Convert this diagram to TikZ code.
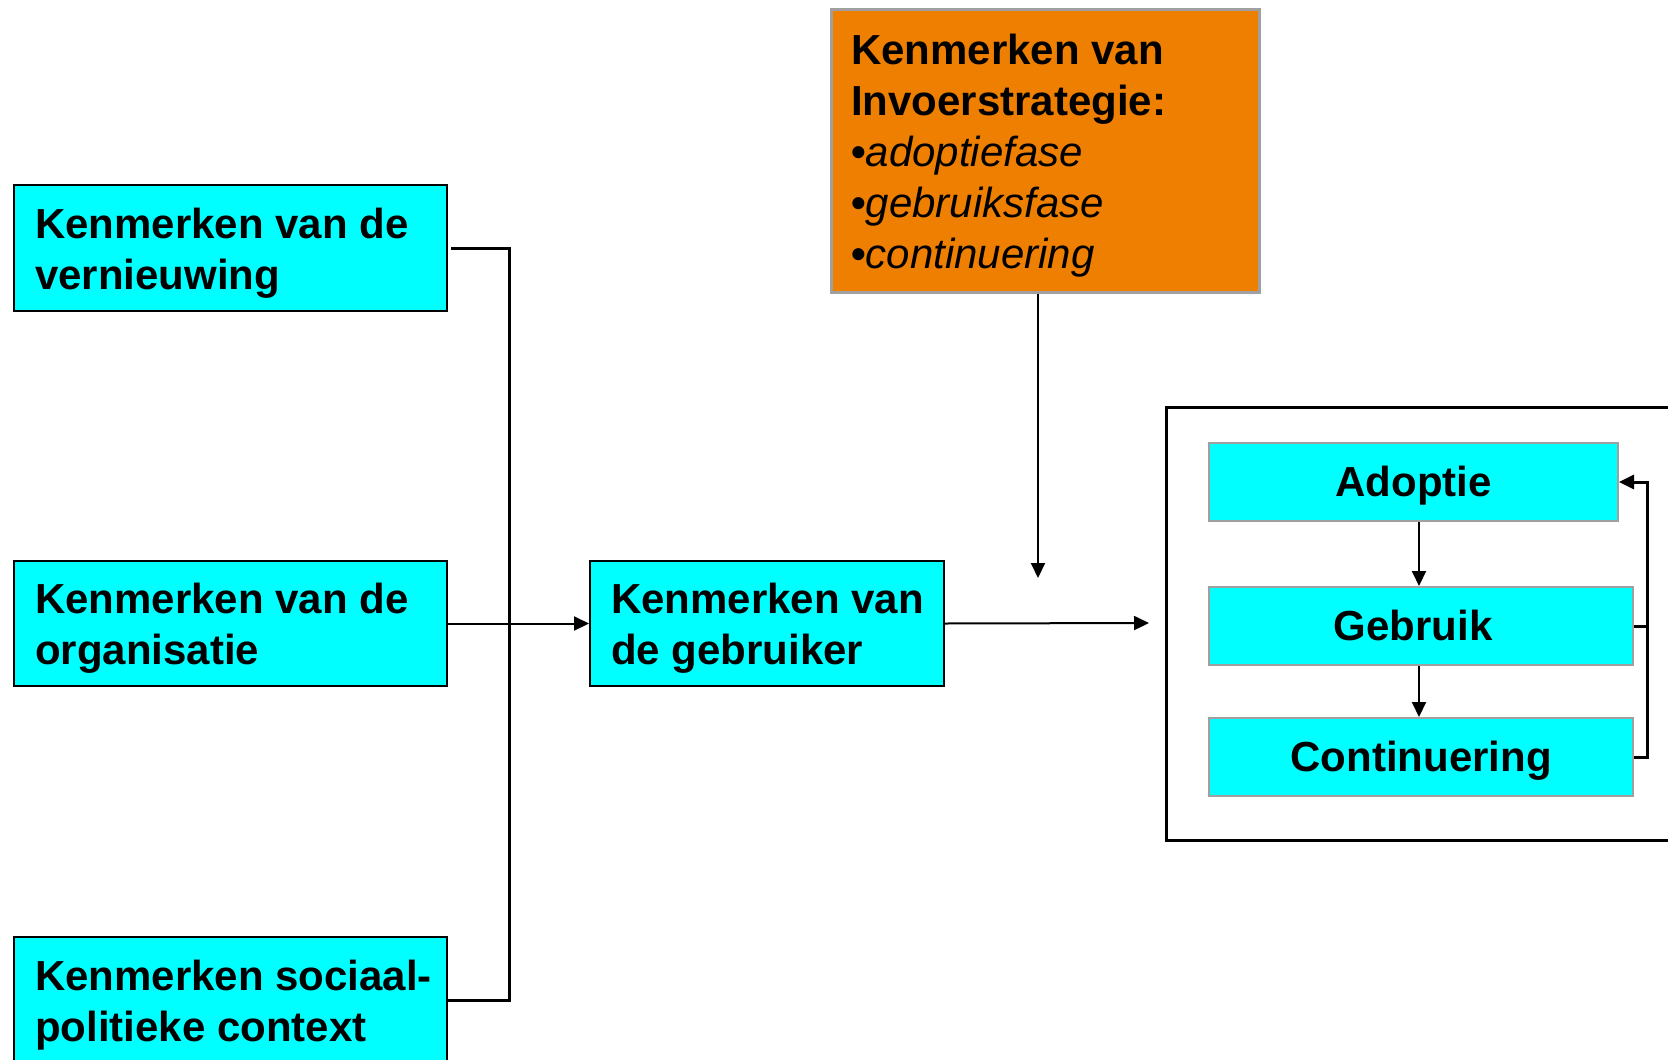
\documentclass[tikz,border=0pt]{standalone}
\usepackage{fontspec}
\setmainfont{Liberation Sans}
\usetikzlibrary{arrows.meta}
\definecolor{boxcyan}{HTML}{00FFFF}
\definecolor{boxorange}{HTML}{EE7F00}
\definecolor{bordergray}{HTML}{A0A0A0}
\tikzset{
  leftbox/.style={draw=black, line width=2pt, fill=boxcyan, inner sep=0pt, anchor=north west},
  rightbox/.style={draw=bordergray, line width=2pt, fill=boxcyan, inner sep=0pt, anchor=north west,
    text height=38pt, text depth=9pt, font=\fontsize{42}{51}\selectfont\bfseries},
  orangebox/.style={draw=bordergray, line width=2.5pt, fill=boxorange, inner sep=0pt, anchor=north west},
  lbl/.style={inner sep=0pt, anchor=west, align=left, font=\fontsize{42}{51}\selectfont\bfseries},
  arr/.style={line width=2pt, -{Triangle[length=15pt,width=14pt]}},
  fbarr/.style={line width=3pt, -{Triangle[length=15pt,width=14pt]}},
  brk/.style={line width=3pt},
}
\begin{document}
\begin{tikzpicture}[x=1pt,y=-1pt]
\useasboundingbox (0,0) rectangle (1668,1060);
\clip (0,0) rectangle (1668,1060);
\fill[white] (0,0) rectangle (1668,1060);

% left boxes
\node[leftbox, minimum width=433pt, minimum height=126pt] (b1) at (13,184) {};
\node[lbl] (t1) at ([xshift=22pt, yshift=-5pt]b1.west) {Kenmerken van de\\vernieuwing};
\node[leftbox, minimum width=433pt, minimum height=125pt] (b2) at (13,560) {};
\node[lbl] (t2) at ([xshift=22pt, yshift=-5pt]b2.west) {Kenmerken van de\\organisatie};
\node[leftbox, minimum width=433pt, minimum height=126pt] (b3) at (13,936) {};
\node[lbl] (t3) at ([xshift=22pt, yshift=-5pt]b3.west) {Kenmerken sociaal-\\politieke context};

% user box
\node[leftbox, minimum width=354pt, minimum height=125pt] (b4) at (589,560) {};
\node[lbl] (t4) at ([xshift=22pt, yshift=-5pt]b4.west) {Kenmerken van\\de gebruiker};

% orange box
\node[orangebox, minimum width=428pt, minimum height=283pt] (ob) at (830,8) {};
\node[lbl] (to) at ([xshift=21pt, yshift=-5pt]ob.west) {Kenmerken van\\Invoerstrategie:\\•\mdseries\itshape adoptiefase\\•\mdseries\itshape gebruiksfase\\•\mdseries\itshape continuering};

% outer right frame
\draw[line width=3pt] (1700,407) -- (1166,407) -- (1166,840) -- (1700,840);

% right inner boxes
\node[rightbox, minimum width=409pt, minimum height=78pt] (ad) at (1208,442) {Adoptie};
\node[rightbox, minimum width=424pt, minimum height=78pt] (ge) at (1208,586) {Gebruik\kern16pt};
\node[rightbox, minimum width=424pt, minimum height=78pt] (co) at (1208,717) {Continuering};

% coordinates
\coordinate (vx) at (509,0);
\coordinate (oa) at (1038,578);
\coordinate (ha) at (1149,623);
\coordinate (fbx) at (1647,0);
\coordinate (dx) at (1419,0);

% bracket from left boxes
\draw[brk] ([xshift=3pt]b1.east) -- (b1.east -| vx) |- (b3.east);
\draw[arr] (b2.east) -- (b4.west);

% arrows
\draw[arr] (ob.south -| oa) -- (oa);
\draw[arr] (b4.east) -- (ha);

\draw[arr] (ad.south -| dx) -- (ge.north -| dx);
\draw[arr] (ge.south -| dx) -- (co.north -| dx);

% feedback
\draw[brk] (ge.east) -- (ge.east -| fbx);
\draw[fbarr] (co.east) -- (co.east -| fbx) |- (ad.east);
\end{tikzpicture}
\end{document}
